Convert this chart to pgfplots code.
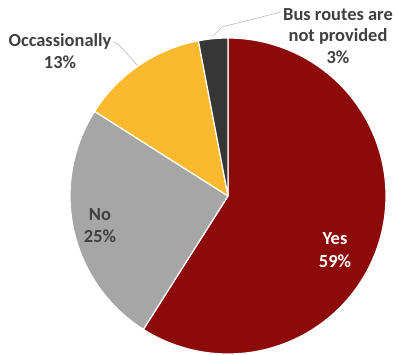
\documentclass[border=0pt]{standalone}
\usepackage{pgfplots}
\usepackage{pgfplotstable}
\pgfplotsset{compat=1.18}
\usepackage{fontspec}
\setmainfont{Carlito}
\definecolor{cYes}{HTML}{8C0A0A}
\definecolor{cNo}{HTML}{A6A6A6}
\definecolor{cOcc}{HTML}{FAB92E}
\definecolor{cBus}{HTML}{363636}
\definecolor{txt}{HTML}{404040}
\pgfplotstableread{
label pct color
Yes 59 cYes
No 25 cNo
Occ 13 cOcc
Bus 3 cBus
}\piedata
\begin{document}
\begin{tikzpicture}
\begin{axis}[
  hide axis, scale only axis, width=397bp, height=355bp,
  xmin=0, xmax=397, ymin=0, ymax=355, clip=false,
]
\path (axis cs:0,0) rectangle (axis cs:397,355);
\def\cum{0}
\pgfplotsforeachungrouped \i in {0,...,3}{
  \pgfplotstablegetelem{\i}{pct}\of\piedata \let\p=\pgfplotsretval
  \pgfplotstablegetelem{\i}{color}\of\piedata \let\c=\pgfplotsretval
  \pgfmathsetmacro\a{90-3.6*\cum}
  \pgfmathsetmacro\b{90-3.6*(\cum+\p)}
  \edef\temp{\noexpand\addplot[fill=\c, draw=white, line width=1.2pt, line join=round, domain=\b:\a, samples=120] ({228+158*cos(x)},{159+158*sin(x)}) -- (axis cs:228,159) -- cycle;}
  \temp
  \pgfmathsetmacro\cum{\cum+\p}
  \xdef\cum{\cum}
}
\addplot[gray!55, line width=0.6pt] coordinates {(114,313) (119,310) (137,290)};
\addplot[gray!55, line width=0.6pt] coordinates {(212,318) (222,328) (281,343)};
\node[font=\bfseries\fontsize{18.5}{22}\selectfont, text=txt, align=center] at (axis cs:60,304) {Occassionally\\13\%};
\node[font=\bfseries\fontsize{18.5}{21.5}\selectfont, text=txt, align=center] at (axis cs:338,319) {Bus routes are\\not provided\\3\%};
\node[font=\bfseries\fontsize{18.5}{23}\selectfont, text=white, align=center] at (axis cs:335,105) {Yes\\59\%};
\node[font=\bfseries\fontsize{18.5}{22}\selectfont, text=txt, align=center] at (axis cs:100,129) {No\\25\%};
\end{axis}
\end{tikzpicture}
\end{document}
